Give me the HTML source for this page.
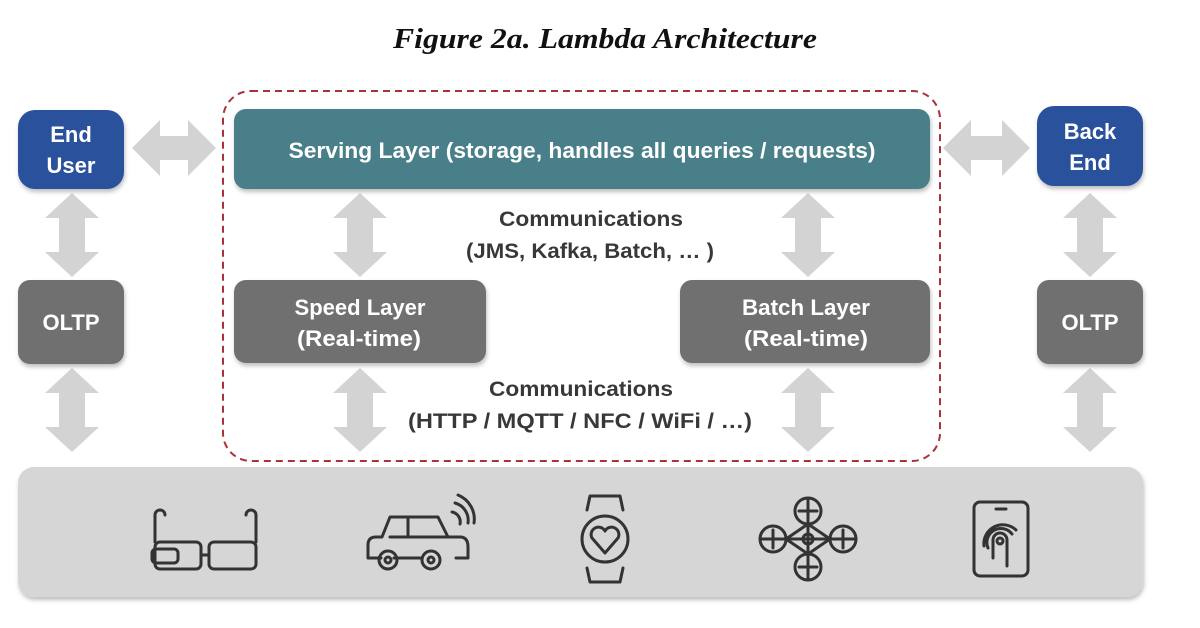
<!DOCTYPE html>
<html><head><meta charset="utf-8"><style>
html,body{margin:0;padding:0;background:#fff;width:1200px;height:628px;overflow:hidden}
</style></head><body>
<svg width="1200" height="628" viewBox="0 0 1200 628" xmlns="http://www.w3.org/2000/svg">
<defs>
<filter id="sh" x="-10%" y="-10%" width="120%" height="130%"><feDropShadow dx="1" dy="3" stdDeviation="2" flood-color="#000" flood-opacity="0.25"/></filter>
</defs>
<rect width="1200" height="628" fill="#fff"/>
<text x="605" y="48" text-anchor="middle" font-family="Liberation Serif, serif" font-weight="bold" font-style="italic" font-size="28" fill="#111" textLength="424" lengthAdjust="spacingAndGlyphs">Figure 2a. Lambda Architecture</text>

<rect x="223" y="91" width="717" height="370" rx="28" fill="none" stroke="#a8323a" stroke-width="2" stroke-dasharray="7,5"/>

<g fill="#d3d3d3">
  <polygon points="132,148 160,120 160,136 188,136 188,120 216,148 188,176 188,160 160,160 160,176"/>
  <polygon points="943,148 971,120 971,136 1002,136 1002,120 1030,148 1002,176 1002,160 971,160 971,176"/>
  <polygon points="72,193 99,218 85,218 85,252 99,252 72,277 45,252 59,252 59,218 45,218"/>
  <polygon points="72,368 99,393 85,393 85,427 99,427 72,452 45,427 59,427 59,393 45,393"/>
  <polygon points="360,193 387,218 373,218 373,252 387,252 360,277 333,252 347,252 347,218 333,218"/>
  <polygon points="360,368 387,393 373,393 373,427 387,427 360,452 333,427 347,427 347,393 333,393"/>
  <polygon points="808,193 835,218 821,218 821,252 835,252 808,277 781,252 795,252 795,218 781,218"/>
  <polygon points="808,368 835,393 821,393 821,427 835,427 808,452 781,427 795,427 795,393 781,393"/>
  <polygon points="1090,193 1117,218 1103,218 1103,252 1117,252 1090,277 1063,252 1077,252 1077,218 1063,218"/>
  <polygon points="1090,368 1117,393 1103,393 1103,427 1117,427 1090,452 1063,427 1077,427 1077,393 1063,393"/>
</g>

<g filter="url(#sh)">
  <rect x="18" y="110" width="106" height="79" rx="17" fill="#2a519c"/>
  <rect x="1037" y="106" width="106" height="80" rx="17" fill="#2a519c"/>
  <rect x="18" y="280" width="106" height="84" rx="12" fill="#707070"/>
  <rect x="1037" y="280" width="106" height="84" rx="12" fill="#707070"/>
  <rect x="234" y="109" width="696" height="80" rx="12" fill="#4a7f88"/>
  <rect x="234" y="280" width="252" height="83" rx="12" fill="#707070"/>
  <rect x="680" y="280" width="250" height="83" rx="12" fill="#707070"/>
  <rect x="18" y="467" width="1125" height="130" rx="16" fill="#d6d6d6"/>
</g>

<g font-family="Liberation Sans, sans-serif" font-weight="bold" fill="#fff" text-anchor="middle" font-size="22">
  <text x="71" y="142">End</text><text x="71" y="173">User</text>
  <text x="1090" y="139">Back</text><text x="1090" y="170">End</text>
  <text x="71" y="330">OLTP</text><text x="1090" y="330">OLTP</text>
  <text x="582" y="158" textLength="587" lengthAdjust="spacingAndGlyphs">Serving Layer (storage, handles all queries / requests)</text>
  <text x="360" y="315" textLength="131" lengthAdjust="spacingAndGlyphs">Speed Layer</text>
  <text x="359" y="346" textLength="124" lengthAdjust="spacingAndGlyphs">(Real-time)</text>
  <text x="806" y="315" textLength="128" lengthAdjust="spacingAndGlyphs">Batch Layer</text>
  <text x="806" y="346" textLength="124" lengthAdjust="spacingAndGlyphs">(Real-time)</text>
</g>
<g font-family="Liberation Sans, sans-serif" font-weight="bold" fill="#383838" text-anchor="middle" font-size="21">
  <text x="591" y="226" textLength="184" lengthAdjust="spacingAndGlyphs">Communications</text>
  <text x="590" y="258" textLength="248" lengthAdjust="spacingAndGlyphs">(JMS, Kafka, Batch, … )</text>
  <text x="581" y="396" textLength="184" lengthAdjust="spacingAndGlyphs">Communications</text>
  <text x="580" y="428" textLength="344" lengthAdjust="spacingAndGlyphs">(HTTP / MQTT / NFC / WiFi / …)</text>
</g>

<g fill="none" stroke="#333" stroke-width="3" stroke-linecap="round" stroke-linejoin="round">
  <path d="M155,542 V515 a5,5 0 0 1 10,0"/>
  <path d="M256,542 V515 a5,5 0 0 0 -10,0"/>
  <rect x="155" y="542" width="46" height="27" rx="5"/>
  <rect x="209" y="542" width="47" height="27" rx="5"/>
  <line x1="201" y1="555" x2="209" y2="555"/>
  <rect x="152" y="549" width="26" height="14" rx="4"/>
  <path d="M368,558 V545 q0,-8 8,-8 h6 l8,-20 h48 l10,20 h12 q8,0 8,10 v11 h-12 M420,558 h-26 M381,558 h-13"/>
  <line x1="408" y1="517" x2="408" y2="537"/><line x1="390" y1="537" x2="448" y2="537"/>
  <circle cx="388" cy="560" r="9"/><circle cx="388" cy="560" r="3"/>
  <circle cx="431" cy="560" r="9"/><circle cx="431" cy="560" r="3"/>
  <path d="M452,512 a10,10 0 0 1 8,12 M455,503 a18,18 0 0 1 13,20 M458,495 a26,26 0 0 1 16,28"/>
  <path d="M587,510 l3,-14 h30 l3,14 M587,568 l3,14 h30 l3,-14"/>
  <circle cx="605" cy="539" r="23"/>
  <path d="M605,553 l-13,-15 a7,7 0 0 1 13,-7 a7,7 0 0 1 13,7 z"/>
  <circle cx="808" cy="511" r="13"/><circle cx="808" cy="567" r="13"/>
  <circle cx="773" cy="539" r="13"/><circle cx="843" cy="539" r="13"/>
  <circle cx="808" cy="539" r="5"/>
  <path d="M808,498 V580 M760,539 H856 M799,511 h18 M799,567 h18 M773,530 v18 M843,530 v18 M786,539 L808,524 L830,539 L808,554 Z"/>
  <rect x="974" y="502" width="54" height="74" rx="6"/>
  <line x1="996" y1="509" x2="1006" y2="509"/>
  <path d="M993,558 v-18 a7,7 0 0 1 14,0 v26 M988,548 a14,14 0 0 1 24,-14 M984,546 a19,19 0 0 1 32,-16"/>
  <circle cx="1000" cy="541" r="3"/>
</g>
</svg>
</body></html>
